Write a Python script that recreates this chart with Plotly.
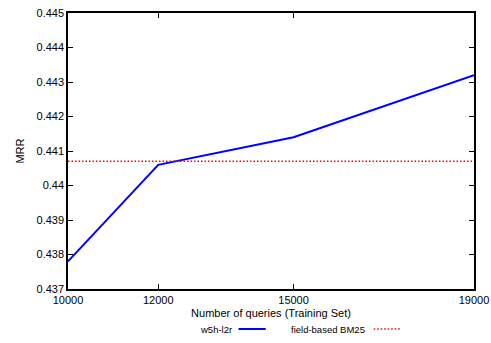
import plotly.graph_objects as go

queries = [10000, 12000, 15000, 19000]
mrr_w5h = [0.4378, 0.4406, 0.4414, 0.4432]
bm25_value = 0.4407
x_ticks = [10000, 12000, 15000, 19000]
y_ticks = [0.437, 0.438, 0.439, 0.440, 0.441, 0.442, 0.443, 0.444, 0.445]
y_ticklabels = ["0.437", "0.438", "0.439", "0.44", "0.441", "0.442", "0.443", "0.444", "0.445"]

FONT = "Liberation Sans, Arial, sans-serif"

fig = go.Figure()
fig.add_trace(go.Scatter(x=queries, y=mrr_w5h, mode="lines", name="w5h-l2r",
                         line=dict(color="#0000ff", width=2), showlegend=False))
fig.add_trace(go.Scatter(x=[queries[0], queries[-1]], y=[bm25_value, bm25_value], mode="lines",
                         name="field-based BM25",
                         line=dict(color="#ff0000", width=1.5, dash="1.5px,2px"), showlegend=False))

# gnuplot-style legend (text then sample)
leg_y = -0.145
fig.add_annotation(xref="paper", yref="paper", x=0.41, y=leg_y, text="w5h-l2r",
                   showarrow=False, xanchor="right", yanchor="middle",
                   font=dict(family=FONT, size=9.5, color="#000"))
fig.add_shape(type="line", xref="paper", yref="paper", x0=0.42, x1=0.487, y0=leg_y, y1=leg_y,
              line=dict(color="#0000ff", width=2))
fig.add_annotation(xref="paper", yref="paper", x=0.736, y=leg_y, text="field-based BM25",
                   showarrow=False, xanchor="right", yanchor="middle",
                   font=dict(family=FONT, size=9.5, color="#000"))
fig.add_shape(type="line", xref="paper", yref="paper", x0=0.753, x1=0.82, y0=leg_y, y1=leg_y,
              line=dict(color="#ff0000", width=1.5, dash="1.5px,2px"))

fig.update_layout(
    width=491, height=343,
    margin=dict(l=68, r=17, t=13, b=54, autoexpand=False),
    paper_bgcolor="white", plot_bgcolor="white",
    font=dict(family=FONT, size=11, color="#000"),
    xaxis=dict(range=[10000, 19000], tickvals=x_ticks, ticktext=[str(v) for v in x_ticks],
               ticks="inside", ticklen=5, tickcolor="#000", tickwidth=1,
               showline=True, linecolor="#000", linewidth=1.5, mirror="allticks",
               showgrid=False, zeroline=False, automargin=False,
               title=dict(text="Number of queries (Training Set)", standoff=4,
                          font=dict(family=FONT, size=11))),
    yaxis=dict(range=[0.437, 0.445], tickvals=y_ticks, ticktext=y_ticklabels,
               ticks="inside", ticklen=5, tickcolor="#000", tickwidth=1,
               showline=True, linecolor="#000", linewidth=1.5, mirror="allticks",
               showgrid=False, zeroline=False, automargin=False,
               title=dict(text="MRR", standoff=10, font=dict(family=FONT, size=11))),
)

fig.write_html("out.html", config={"displayModeBar": False},
               post_script="document.body.style.margin='0';document.body.style.overflow='hidden';")
